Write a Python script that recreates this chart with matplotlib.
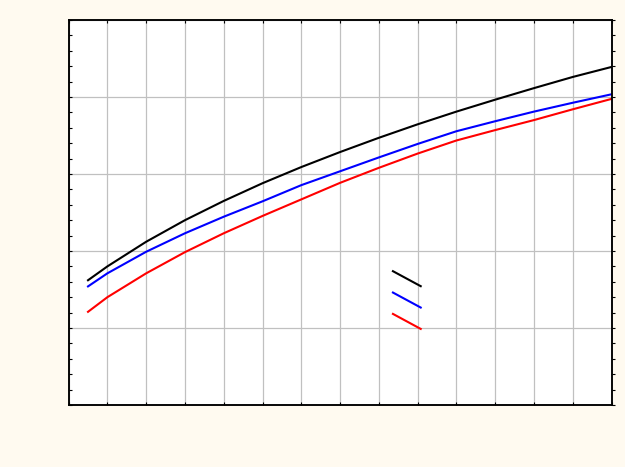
import numpy as np
import matplotlib
matplotlib.use("Agg")
import matplotlib.pyplot as plt
from matplotlib.lines import Line2D
from matplotlib.legend_handler import HandlerLine2D
from matplotlib.ticker import MultipleLocator, NullFormatter

# values (no axis labels in the picture)
x = [0.5, 1, 2, 3, 4, 5, 6, 7, 8, 9, 10, 11, 12, 13, 14]
black_vals = [1.62, 1.80, 2.12, 2.40, 2.65, 2.88, 3.09, 3.285, 3.47, 3.645, 3.81, 3.965, 4.115, 4.26, 4.39]
blue_vals = [1.54, 1.71, 1.99, 2.23, 2.445, 2.645, 2.855, 3.035, 3.215, 3.39, 3.555, 3.685, 3.81, 3.925, 4.035]
red_vals = [1.21, 1.40, 1.71, 1.985, 2.23, 2.455, 2.67, 2.885, 3.08, 3.265, 3.435, 3.57, 3.70, 3.84, 3.975]
series_colors = ["black", "#0000ff", "#ff0000"]


class HandlerSlant(HandlerLine2D):
    # legend key drawn as a short falling diagonal
    def create_artists(self, legend, orig_handle, xdescent, ydescent,
                       width, height, fontsize, trans):
        mid = height / 2 - ydescent
        drop = 0.54 * fontsize
        line = Line2D([-xdescent, -xdescent + width], [mid + drop, mid - drop])
        self.update_prop(line, orig_handle, legend)
        line.set_transform(trans)
        return [line]


fig = plt.figure(figsize=(6.25, 4.67), dpi=100)
fig.patch.set_facecolor("#fffaf0")
ax = fig.add_axes([0.1098, 0.1328, 0.8686, 0.8244])
ax.set_facecolor("white")

handles = []
for vals, c in zip([black_vals, blue_vals, red_vals], series_colors):
    h, = ax.plot(x, vals, color=c, lw=1.5)
    handles.append(h)

ax.set_xlim(0, 14)
ax.set_ylim(0, 5)
ax.xaxis.set_major_locator(MultipleLocator(1))
ax.yaxis.set_major_locator(MultipleLocator(1))
ax.yaxis.set_minor_locator(MultipleLocator(0.2))
ax.xaxis.set_major_formatter(NullFormatter())
ax.yaxis.set_major_formatter(NullFormatter())
ax.grid(True, which="major", color="#c0c0c0", lw=0.9)
ax.set_axisbelow(True)
for s in ax.spines.values():
    s.set_linewidth(1.1)
ax.tick_params(which="both", direction="in", top=True, right=False,
               length=2.5, width=0.8, labelleft=False, labelbottom=False)
ax.tick_params(which="minor", length=1.8)

# right-hand ticks point outward
ax_r = ax.twinx()
ax_r.set_ylim(ax.get_ylim())
ax_r.yaxis.set_major_locator(MultipleLocator(1))
ax_r.yaxis.set_minor_locator(MultipleLocator(0.2))
ax_r.yaxis.set_major_formatter(NullFormatter())
ax_r.tick_params(which="both", direction="out", length=2.5, width=0.8)
ax_r.tick_params(which="minor", length=1.8)
for s in ax_r.spines.values():
    s.set_linewidth(1.1)

ax_r.legend(handles, [" ", " ", " "], handler_map={Line2D: HandlerSlant()},
            loc="upper left", bbox_to_anchor=(0.5974, 0.344), frameon=False,
            borderpad=0, borderaxespad=0, handlelength=2.0, handletextpad=0,
            labelspacing=0.53, fontsize=10)

fig.savefig("out.png", dpi=100, facecolor=fig.get_facecolor())
